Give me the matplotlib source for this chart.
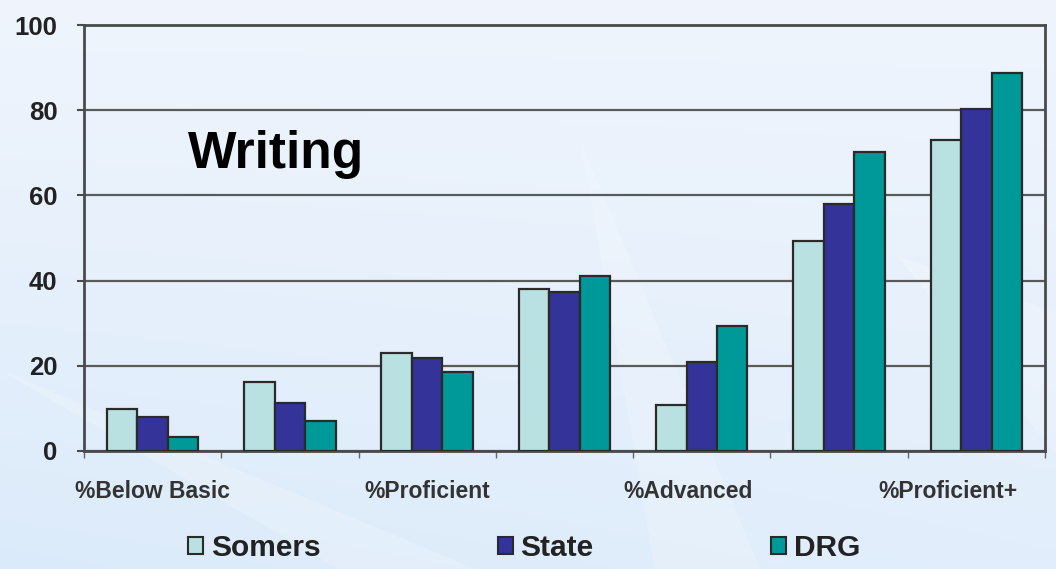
import numpy as np
import matplotlib.pyplot as plt
import matplotlib.transforms as mtransforms
from matplotlib.patches import Patch, Polygon

plt.rcParams["font.family"] = ["Liberation Sans", "DejaVu Sans"]

# ---------------------------------------------- data ---------------------------------------------- #
categories = ['%Below Basic', '%Basic', '%Proficient', '%Goal', '%Advanced', '%Goal+', '%Proficient+']
somers = [9.8, 16.2, 23.1, 38.1, 10.8, 49.4, 73.0]
state = [7.9, 11.3, 21.9, 37.3, 20.9, 58.1, 80.3]
drg = [3.4, 7.0, 18.5, 41.0, 29.3, 70.3, 88.8]
series_names = ['Somers', 'State', 'DRG']
y_ticks = [0, 20, 40, 60, 80, 100]

light_cyan = "#b9e1e2"
navy = "#333399"
teal = "#009999"
dark = "#2a2a2a"

fig = plt.figure(figsize=(10.56, 5.69), dpi=100)

# soft blue slide background
bg = fig.add_axes([0, 0, 1, 1], zorder=-2)
gy, gx = np.mgrid[0:1:200j, 0:1:300j]
shade = 0.55 * gy + 0.25 * (1 - gx) * gy
top_col = np.array([0.94, 0.96, 0.99])
bot_col = np.array([0.84, 0.91, 0.98])
img = top_col[None, None, :] * (1 - shade[..., None]) + bot_col[None, None, :] * shade[..., None]
bg.imshow(img, extent=[0, 1, 0, 1], aspect='auto', origin='upper')
for pts in ([(0.0, 0.35), (0.45, 0.0), (0.32, 0.0)],
            [(0.55, 0.75), (0.72, 0.0), (0.62, 0.0)],
            [(0.85, 0.55), (1.0, 0.2), (1.0, 0.45)]):
    bg.add_patch(Polygon(pts, closed=True, color='white', alpha=0.18, lw=0))
bg.set_xlim(0, 1)
bg.set_ylim(0, 1)
bg.axis('off')

ax = fig.add_axes([0.0795, 0.2074, 0.9101, 0.7486])
ax.patch.set_alpha(0)

x = np.arange(len(categories))
w = 0.222
for off, vals, col in zip((-w, 0, w), (somers, state, drg), (light_cyan, navy, teal)):
    ax.bar(x + off, vals, width=w, color=col, edgecolor=dark, linewidth=1.6, zorder=3)

ax.set_xlim(-0.5, len(categories) - 0.5)
ax.set_ylim(0, 100)
ax.set_yticks(y_ticks)
ax.yaxis.grid(True, color="#5a5a5a", linewidth=1.6, zorder=1)
ax.set_axisbelow(True)

for s in ax.spines.values():
    s.set_color("#4a4a4a")
    s.set_linewidth(2)

ax.set_xticks(x[::2])
ax.set_xticklabels(categories[::2])
ax.set_xticks(np.arange(-0.5, len(categories)), minor=True)
ax.tick_params(axis='x', which='major', length=0, pad=21, labelsize=16.5, labelcolor="#333333")
ax.tick_params(axis='x', which='minor', length=5, width=1, color="#666666", direction='out')
ax.tick_params(axis='y', length=5, width=1.5, color="#4a4a4a", pad=14, labelsize=18.5, labelcolor="#222222")
for lab in ax.get_yticklabels() + ax.get_xticklabels():
    lab.set_fontweight('bold')

# the original nudges the right-hand category labels a little to the left
for lab, dx in zip(ax.get_xticklabels(), (0, 0, -14, -28)):
    lab.set_transform(lab.get_transform() + mtransforms.ScaledTranslation(dx / 100, 0, fig.dpi_scale_trans))

fig.text(188 / 1056, 1 - 168 / 569, 'Writing', fontsize=37, fontweight='bold',
         color='black', va='baseline', ha='left')

handles = [Patch(facecolor=c, edgecolor=dark, linewidth=1.5) for c in (light_cyan, navy, teal)]
leg = fig.legend(handles, series_names, loc='center', bbox_to_anchor=(0.4965, 1 - 548 / 569),
                 ncol=3, frameon=False, fontsize=21.5, handlelength=0.5, handleheight=0.5,
                 handletextpad=0.25, columnspacing=5.95, borderaxespad=0)
for t in leg.get_texts():
    t.set_fontweight('bold')
    t.set_color("#222222")

fig.savefig('out.png', dpi=100)
